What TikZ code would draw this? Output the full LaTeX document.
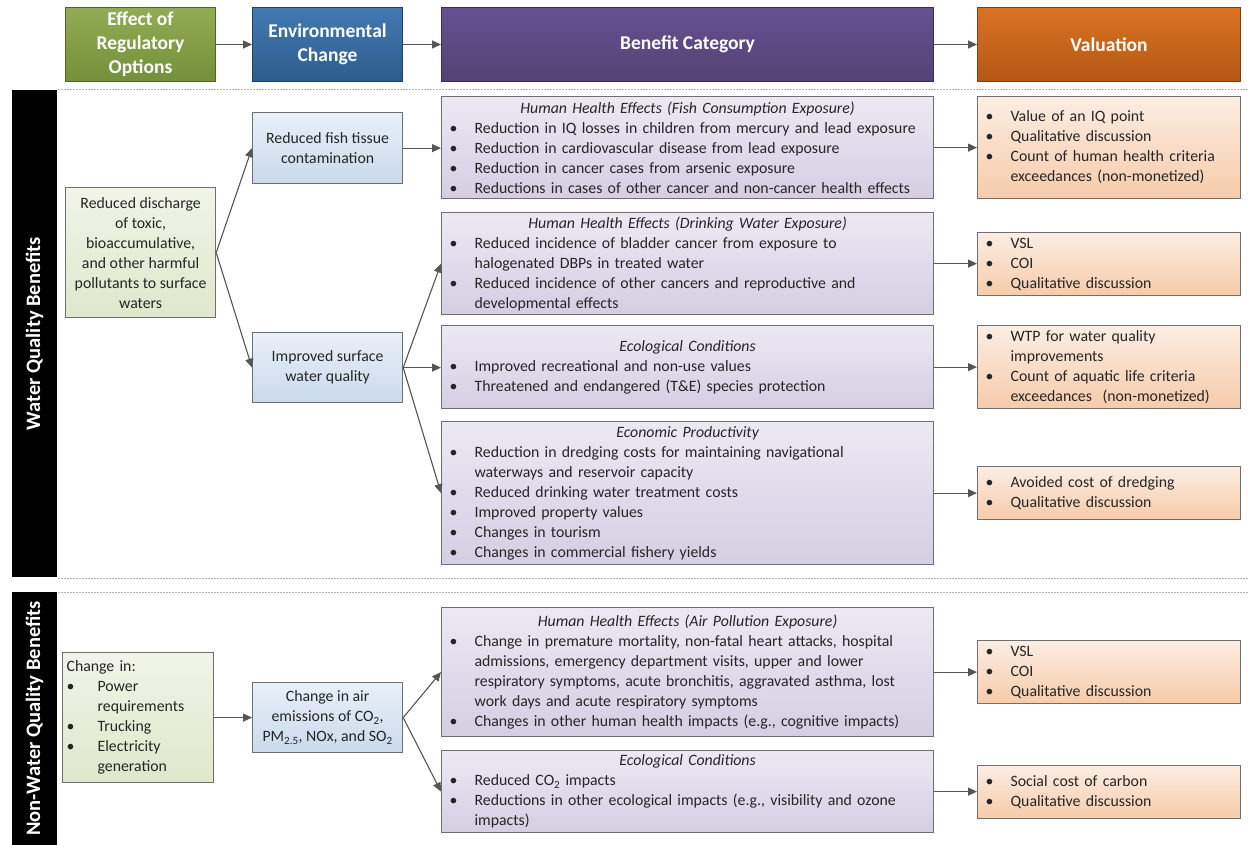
\documentclass[tikz,border=0pt]{standalone}
\usepackage{fontspec}
\setmainfont{Carlito}
\usetikzlibrary{arrows.meta}
\hyphenpenalty=10000
\exhyphenpenalty=10000
\definecolor{hgA}{HTML}{93AB55}
\definecolor{hgB}{HTML}{74903A}
\definecolor{hbA}{HTML}{4279B3}
\definecolor{hbB}{HTML}{2E5D8C}
\definecolor{hpA}{HTML}{655190}
\definecolor{hpB}{HTML}{544275}
\definecolor{hoA}{HTML}{DA7222}
\definecolor{hoB}{HTML}{B45816}
\definecolor{lgA}{HTML}{F1F4E8}
\definecolor{lgB}{HTML}{E0E7CB}
\definecolor{lbA}{HTML}{E9F0F8}
\definecolor{lbB}{HTML}{C9DAEC}
\definecolor{lpA}{HTML}{ECE9F3}
\definecolor{lpB}{HTML}{D5CEE2}
\definecolor{loA}{HTML}{FDEDE2}
\definecolor{loB}{HTML}{F6CBAA}
\definecolor{boxline}{HTML}{6F6F6F}
\definecolor{arrgray}{HTML}{555555}
\newcommand{\fitem}[1][25pt]{\hangindent=#1\hangafter=1\noindent\makebox[#1][l]{\textbullet}}
\newcommand{\bitem}[1][25pt]{\par\fitem[#1]}
\tikzset{hdr/.style 2 args={top color=#1, bottom color=#2, draw=#2!70!black, line width=1pt,
   text=white, font=\bfseries\fontsize{19.5}{24}\selectfont, align=center,
   anchor=north west, inner sep=2pt, minimum height=74pt},
 side/.style={fill=black, text=white, rotate=90, minimum height=45pt, inner sep=0pt,
   font=\bfseries\fontsize{20.5}{24}\selectfont},
 box/.style={draw=boxline, line width=1.2pt, anchor=north west, inner ysep=1pt,
   text=black!85, font=\fontsize{15.8}{20}\selectfont},
 grnbox/.style={box, top color=lgA, bottom color=lgB},
 blubox/.style={box, top color=lbA, bottom color=lbB, minimum width=150pt, align=center},
 purbox/.style={box, top color=lpA, bottom color=lpB, text width=476pt, inner xsep=8pt, align=left},
 orgbox/.style={box, top color=loA, bottom color=loB, text width=247pt, inner xsep=8pt, align=left},
 arr/.style={draw=arrgray, line width=1.1pt, -{Triangle[length=9pt,width=8pt]}},
 sep/.style={draw=black!30, line width=0.8pt, dash pattern=on 2pt off 1pt},
 }

\begin{document}
\begin{tikzpicture}[x=1pt,y=-1pt]
\useasboundingbox (0,0) rectangle (1248,845);

\node[hdr={hgA}{hgB}, minimum width=150pt] (effect) at (65,7) {Effect of\\Regulatory\\Options};
\node[hdr={hbA}{hbB}, minimum width=150pt] (envchg) at (252,7) {Environmental\\Change};
\node[hdr={hpA}{hpB}, minimum width=492pt] (benefit) at (441,7) {Benefit Category};
\node[hdr={hoA}{hoB}, minimum width=263pt] (valuation) at (977,7) {Valuation};
\foreach \a/\b in {effect/envchg, envchg/benefit, benefit/valuation}
    \draw[arr] (\a) -- (\b);

\foreach \y in {89, 578, 592}
    \draw[sep] (58,\y) -- (1248,\y);

\node[side, minimum width=487pt] (wqb) at (34.5,333.5) {Water Quality Benefits};
\node[side, minimum width=253pt] (nwqb) at (34.5,718.5) {Non-Water Quality Benefits};

\node[grnbox, minimum width=150pt, minimum height=130pt, align=center] (src) at (65,187)
    {Reduced discharge\\of toxic,\\bioaccumulative,\\and other harmful\\pollutants to surface\\waters};
\node[blubox, minimum height=71pt] (fish) at (252,112) {Reduced fish tissue\\contamination};
\node[blubox, minimum height=70pt] (surf) at (252,332) {Improved surface\\water quality};

\node[purbox, minimum height=102pt] (hhfish) at (441,96) {\centerline{\itshape Human Health Effects (Fish Consumption Exposure)}%
    \bitem Reduction in IQ losses in children from mercury and lead exposure
    \bitem Reduction in cardiovascular disease from lead exposure
    \bitem Reduction in cancer cases from arsenic exposure
    \bitem Reductions in cases of other cancer and non-cancer health effects\par};
\node[purbox, minimum height=102pt] (hhdw) at (441,212) {\centerline{\itshape Human Health Effects (Drinking Water Exposure)}%
    \bitem Reduced incidence of bladder cancer from exposure to\newline halogenated DBPs in treated water
    \bitem Reduced incidence of other cancers and reproductive and\newline developmental effects\par};
\node[purbox, minimum height=83pt] (ecow) at (441,325) {\centerline{\itshape Ecological Conditions}%
    \bitem Improved recreational and non-use values
    \bitem Threatened and endangered (T\&E) species protection\par};
\node[purbox, minimum height=143pt] (econ) at (441,421) {\centerline{\itshape Economic Productivity}%
    \bitem Reduction in dredging costs for maintaining navigational\newline waterways and reservoir capacity
    \bitem Reduced drinking water treatment costs
    \bitem Improved property values
    \bitem Changes in tourism
    \bitem Changes in commercial fishery yields\par};

\node[orgbox, minimum height=102pt] (valfish) at (977,96) {\fitem Value of an IQ point
    \bitem Qualitative discussion
    \bitem Count of human health criteria\newline exceedances (non-monetized)\par};
\node[orgbox, minimum height=63pt] (valdw) at (977,232) {\fitem VSL
    \bitem COI
    \bitem Qualitative discussion\par};
\node[orgbox, minimum height=83pt] (valeco) at (977,325) {\fitem WTP for water quality\newline improvements
    \bitem Count of aquatic life criteria\newline exceedances\ \ (non-monetized)\par};
\node[orgbox, minimum height=53pt] (valecon) at (977,466) {\fitem Avoided cost of dredging
    \bitem Qualitative discussion\par};

\draw[arr] (src.east) -- (fish.west);
\draw[arr] (src.east) -- (surf.west);
\draw[arr] (fish.east) -- (fish.east -| hhfish.west);
\draw[arr] (surf.east) -- (hhdw.west);
\draw[arr] (surf.east) -- (surf.east -| ecow.west);
\draw[arr] (surf.east) -- (econ.west);

\node[grnbox, text width=143pt, inner xsep=4pt, minimum height=130pt, align=left] (chg) at (62,652)
    {Change in:\bitem[31pt]Power requirements\bitem[31pt]Trucking\bitem[31pt]Electricity generation\par};
\node[blubox, minimum height=70pt] (air) at (252,682)
    {Change in air\\emissions of CO\textsubscript{2},\\PM\textsubscript{2.5}, NOx, and SO\textsubscript{2}};

\node[purbox, minimum height=129pt] (hhair) at (441,607) {\centerline{\itshape Human Health Effects (Air Pollution Exposure)}%
    \bitem Change in premature mortality, non-fatal heart attacks, hospital\newline admissions, emergency department visits, upper and lower\newline respiratory symptoms, acute bronchitis, aggravated asthma, lost\newline work days and acute respiratory symptoms
    \bitem Changes in other human health impacts (e.g., cognitive impacts)\par};
\node[purbox, minimum height=82pt] (ecoair) at (441,750) {\centerline{\itshape Ecological Conditions}%
    \bitem Reduced CO\textsubscript{2} impacts
    \bitem Reductions in other ecological impacts (e.g., visibility and ozone\newline impacts)\par};

\node[orgbox, minimum height=63pt] (valair) at (977,640) {\fitem VSL
    \bitem COI
    \bitem Qualitative discussion\par};
\node[orgbox, minimum height=53pt] (valcarb) at (977,765) {\fitem Social cost of carbon
    \bitem Qualitative discussion\par};

\draw[arr] (chg.east) -- (chg.east -| air.west);
\draw[arr] (air.east) -- (hhair.west);
\draw[arr] (air.east) -- (ecoair.west);

\foreach \a/\b in {hhfish/valfish, hhdw/valdw, ecow/valeco, econ/valecon, hhair/valair, ecoair/valcarb}
    \draw[arr] (\a.east) -- (\a.east -| \b.west);
\end{tikzpicture}
\end{document}
